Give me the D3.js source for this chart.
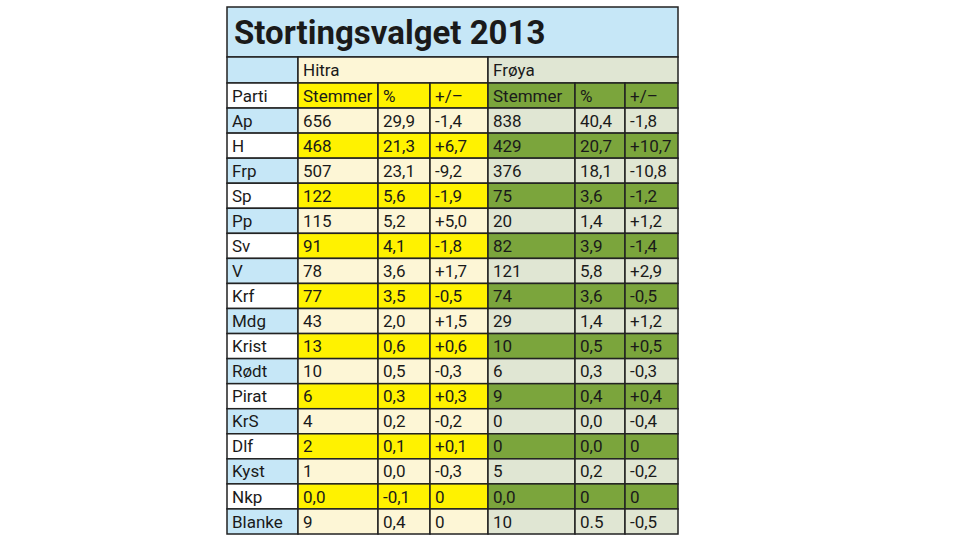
<!DOCTYPE html>
<html><head><meta charset="utf-8">
<script src="https://cdn.jsdelivr.net/npm/d3@7"></script>
<style>body{margin:0;background:#fff}</style>
</head><body><svg id="chart"></svg>
<script>
const parties = ['Ap','H','Frp','Sp','Pp','Sv','V','Krf','Mdg','Krist','Rødt','Pirat','KrS','Dlf','Kyst','Nkp','Blanke'];
const hitraVotes = ['656','468','507','122','115','91','78','77','43','13','10','6','4','2','1','0,0','9'];
const hitraPct = ['29,9','21,3','23,1','5,6','5,2','4,1','3,6','3,5','2,0','0,6','0,5','0,3','0,2','0,1','0,0','-0,1','0,4'];
const hitraDiff = ['-1,4','+6,7','-9,2','-1,9','+5,0','-1,8','+1,7','-0,5','+1,5','+0,6','-0,3','+0,3','-0,2','+0,1','-0,3','0','0'];
const froyaVotes = ['838','429','376','75','20','82','121','74','29','10','6','9','0','0','5','0,0','10'];
const froyaPct = ['40,4','20,7','18,1','3,6','1,4','3,9','5,8','3,6','1,4','0,5','0,3','0,4','0,0','0,0','0,2','0','0.5'];
const froyaDiff = ['-1,8','+10,7','-10,8','-1,2','+1,2','-1,4','+2,9','-0,5','+1,2','+0,5','-0,3','+0,4','-0,4','0','-0,2','0','-0,5'];
const colHeads = ['Parti','Stemmer','%','+/–','Stemmer','%','+/–'];

const svg = d3.select('#chart').attr('width',980).attr('height',543);
const font = "'Liberation Sans Narrow','Roboto',sans-serif";
const edges = [227,298,378,430,488,575,625,678];
const rowKeys = ['head'].concat(parties);
const y = d3.scaleBand().domain(rowKeys).range([83,534]);

const c = {blue:'#c6e7f7', cream:'#fdf6d6', yellow:'#fff200', green:'#7ba53c', lgreen:'#e0e6d3'};

const g = svg.append('g');
function cell(x0,x1,y0,h,fill,text,size,weight){
  g.append('rect').attr('x',x0).attr('y',y0).attr('width',x1-x0).attr('height',h)
    .attr('fill',fill).attr('stroke','#222').attr('stroke-width',1.5);
  if(text!=null) g.append('text').attr('x',x0+5).attr('y',y0+h/2).attr('dy','0.36em')
    .attr('font-family',font).attr('font-size',size||17).attr('font-weight',weight||'normal')
    .attr('fill','#1a1a1a').text(text);
}
// title
cell(227,678,7,50,c.blue,null);
g.append('text').attr('x',234).attr('y',32).attr('dy','0.36em').attr('font-family',font)
  .attr('font-size',33).attr('font-weight','bold').attr('fill','#1a1a1a').text('Stortingsvalget 2013');
// group header
cell(227,298,57,26,c.blue,null);
cell(298,488,57,26,c.cream,'Hitra');
cell(488,678,57,26,c.lgreen,'Frøya');
// column header
colHeads.forEach((t,i)=>cell(edges[i],edges[i+1],y('head'),y.bandwidth(),i==0?'#fff':(i<4?c.yellow:c.green),t));
const cols = [hitraVotes,hitraPct,hitraDiff,froyaVotes,froyaPct,froyaDiff];
parties.forEach((p,r)=>{
  const odd = r%2==0;
  cell(edges[0],edges[1],y(p),y.bandwidth(),odd?c.blue:'#fff',p);
  cols.forEach((arr,j)=>{
    const fill = j<3 ? (odd?c.cream:c.yellow) : (odd?c.lgreen:c.green);
    cell(edges[j+1],edges[j+2],y(p),y.bandwidth(),fill,arr[r]);
  });
});
</script></body></html>
